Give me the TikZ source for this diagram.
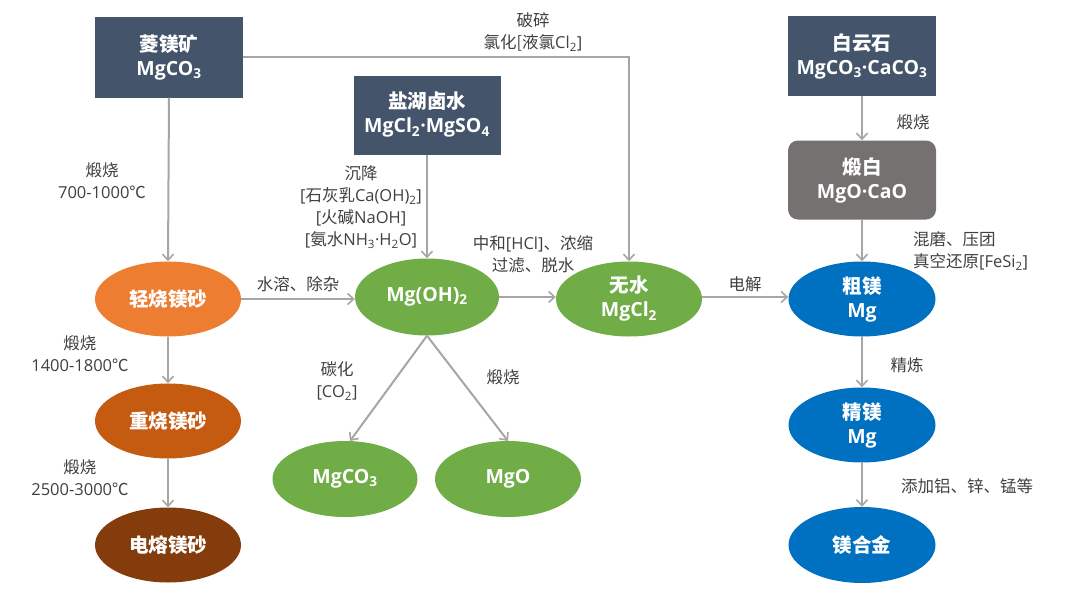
\documentclass[tikz,border=0pt]{standalone}
\usepackage{fontspec}
\setmainfont{Open Sans}
\newfontfamily\zhfont{Noto Sans CJK SC}
\newcommand{\zh}[1]{{\zhfont #1}}
\usetikzlibrary{arrows.meta,shapes.geometric}
\definecolor{boxblue}{HTML}{44546A}
\definecolor{boxgray}{HTML}{767171}
\definecolor{orange1}{HTML}{ED7D31}
\definecolor{orange2}{HTML}{C55A11}
\definecolor{brown3}{HTML}{843C0C}
\definecolor{green1}{HTML}{70AD47}
\definecolor{blue1}{HTML}{0070C0}
\definecolor{linegray}{HTML}{A6A6A6}
\definecolor{txt}{HTML}{404040}
\tikzset{
  nodefont/.style={text=white, font=\fontsize{19.5}{24}\selectfont\bfseries, align=center, inner sep=0pt},
  srcbox/.style={rectangle, fill=boxblue, minimum width=148pt, minimum height=81pt, nodefont},
  calbox/.style={rectangle, rounded corners=10pt, fill=boxgray, minimum width=148pt, minimum height=79pt, nodefont},
  oval/.style={ellipse, minimum width=146pt, minimum height=75pt, nodefont},
  flow/.style={draw=linegray, line width=2pt, -{Straight Barb[length=6pt,width=11pt,line width=1.6pt]}},
  lab/.style={text=txt, font=\fontsize{16.5}{22}\selectfont, align=center, inner sep=0pt},
}
\begin{document}
\begin{tikzpicture}[x=1pt,y=-1pt]
\useasboundingbox[fill=white] (0,0) rectangle (1080,608);
% source boxes
\node[srcbox] (lingmei) at (169,57) {\zh{菱镁矿}\\MgCO\textsubscript{3}};
\node[srcbox, minimum width=147pt, minimum height=79pt] (yanhu) at (427,115) {\zh{盐湖卤水}\\MgCl\textsubscript{2}·MgSO\textsubscript{4}};
\node[srcbox, minimum height=80pt] (baiyun) at (862,56) {\zh{白云石}\\MgCO\textsubscript{3}·CaCO\textsubscript{3}};
\node[calbox] (duanbai) at (862,180) {\zh{煅白}\\MgO·CaO};
% ovals
\node[oval, fill=orange1] (qing) at (168,299) {\zh{轻烧镁砂}};
\node[oval, fill=orange2] (zhong) at (168,421) {\zh{重烧镁砂}};
\node[oval, fill=brown3] (dian) at (168,545) {\zh{电熔镁砂}};
\node[oval, fill=green1, minimum width=144pt, minimum height=77pt] (mgoh) at (427,297) {Mg(OH)\textsubscript{2}};
\node[oval, fill=green1] (wushui) at (629,299) {\zh{无水}\\MgCl\textsubscript{2}};
\node[oval, fill=green1, minimum width=145pt, minimum height=76pt] (mgco) at (345,479) {MgCO\textsubscript{3}};
\node[oval, fill=green1, minimum width=146pt, minimum height=76pt] (mgo) at (508,479) {MgO};
\node[oval, fill=blue1, minimum width=147pt] (cumei) at (862,299) {\zh{粗镁}\\Mg};
\node[oval, fill=blue1, minimum width=147pt] (jingmei) at (862,425) {\zh{精镁}\\Mg};
\node[oval, fill=blue1, minimum width=147pt, minimum height=76pt] (hejin) at (862,545) {\zh{镁合金}};
% connectors
\draw[flow] (lingmei.south) -- (qing.north);
\coordinate (corner) at (629,57);
\draw[flow] (lingmei.east) -- (corner) -- (wushui.north);
\draw[flow] (yanhu.south) -- (mgoh.north);
\draw[flow] (qing.east) -- (mgoh.west |- qing.east);
\draw[flow] (mgoh.east) -- (wushui.west |- mgoh.east);
\draw[flow] (wushui.east |- mgoh.east) -- (cumei.west |- mgoh.east);
\coordinate (tgtco) at (350,441);
\coordinate (tgto) at (508,441);
\draw[flow] (mgoh.south) -- (tgtco);
\draw[flow] (mgoh.south) -- (tgto);
\draw[flow] (qing.south) -- (zhong.north);
\draw[flow] (zhong.south) -- (dian.north);
\draw[flow] (baiyun.south) -- (duanbai.north);
\draw[flow] (duanbai.south) -- (cumei.north);
\draw[flow] (cumei.south) -- (jingmei.north);
\draw[flow] (jingmei.south) -- (hejin.north);
% labels
\node[lab] (l1) at (102,181) {\zh{煅烧}\\700-1000\zh{℃}};
\node[lab] (l2) at (80,354) {\zh{煅烧}\\1400-1800\zh{℃}};
\node[lab] (l3) at (80,478) {\zh{煅烧}\\2500-3000\zh{℃}};
\node[lab] (l4) at (533,32) {\zh{破碎}\\\zh{氯化[液氯}Cl\textsubscript{2}]};
\node[lab] (l5) at (361,207) {\zh{沉降}\\{}[\zh{石灰乳}Ca(OH)\textsubscript{2}]\\{}[\zh{火碱}NaOH]\\{}[\zh{氨水}NH\textsubscript{3}·H\textsubscript{2}O]};
\node[lab] (l6) at (298,284) {\zh{水溶、除杂}};
\node[lab] (l7) at (533,254) {\zh{中和}[HCl]\zh{、浓缩}\\\zh{过滤、脱水}};
\node[lab] (l8) at (745,284) {\zh{电解}};
\node[lab] (l9) at (337,381) {\zh{碳化}\\{}[CO\textsubscript{2}]};
\node[lab] (l10) at (503,377) {\zh{煅烧}};
\node[lab] (l11) at (913,122) {\zh{煅烧}};
\node[lab, align=left, anchor=west] (l12) at (913,251) {\zh{混磨、压团}\\\zh{真空还原}[FeSi\textsubscript{2}]};
\node[lab] (l13) at (907,365) {\zh{精炼}};
\node[lab] (l14) at (967,486) {\zh{添加铝、锌、锰等}};
\end{tikzpicture}
\end{document}
